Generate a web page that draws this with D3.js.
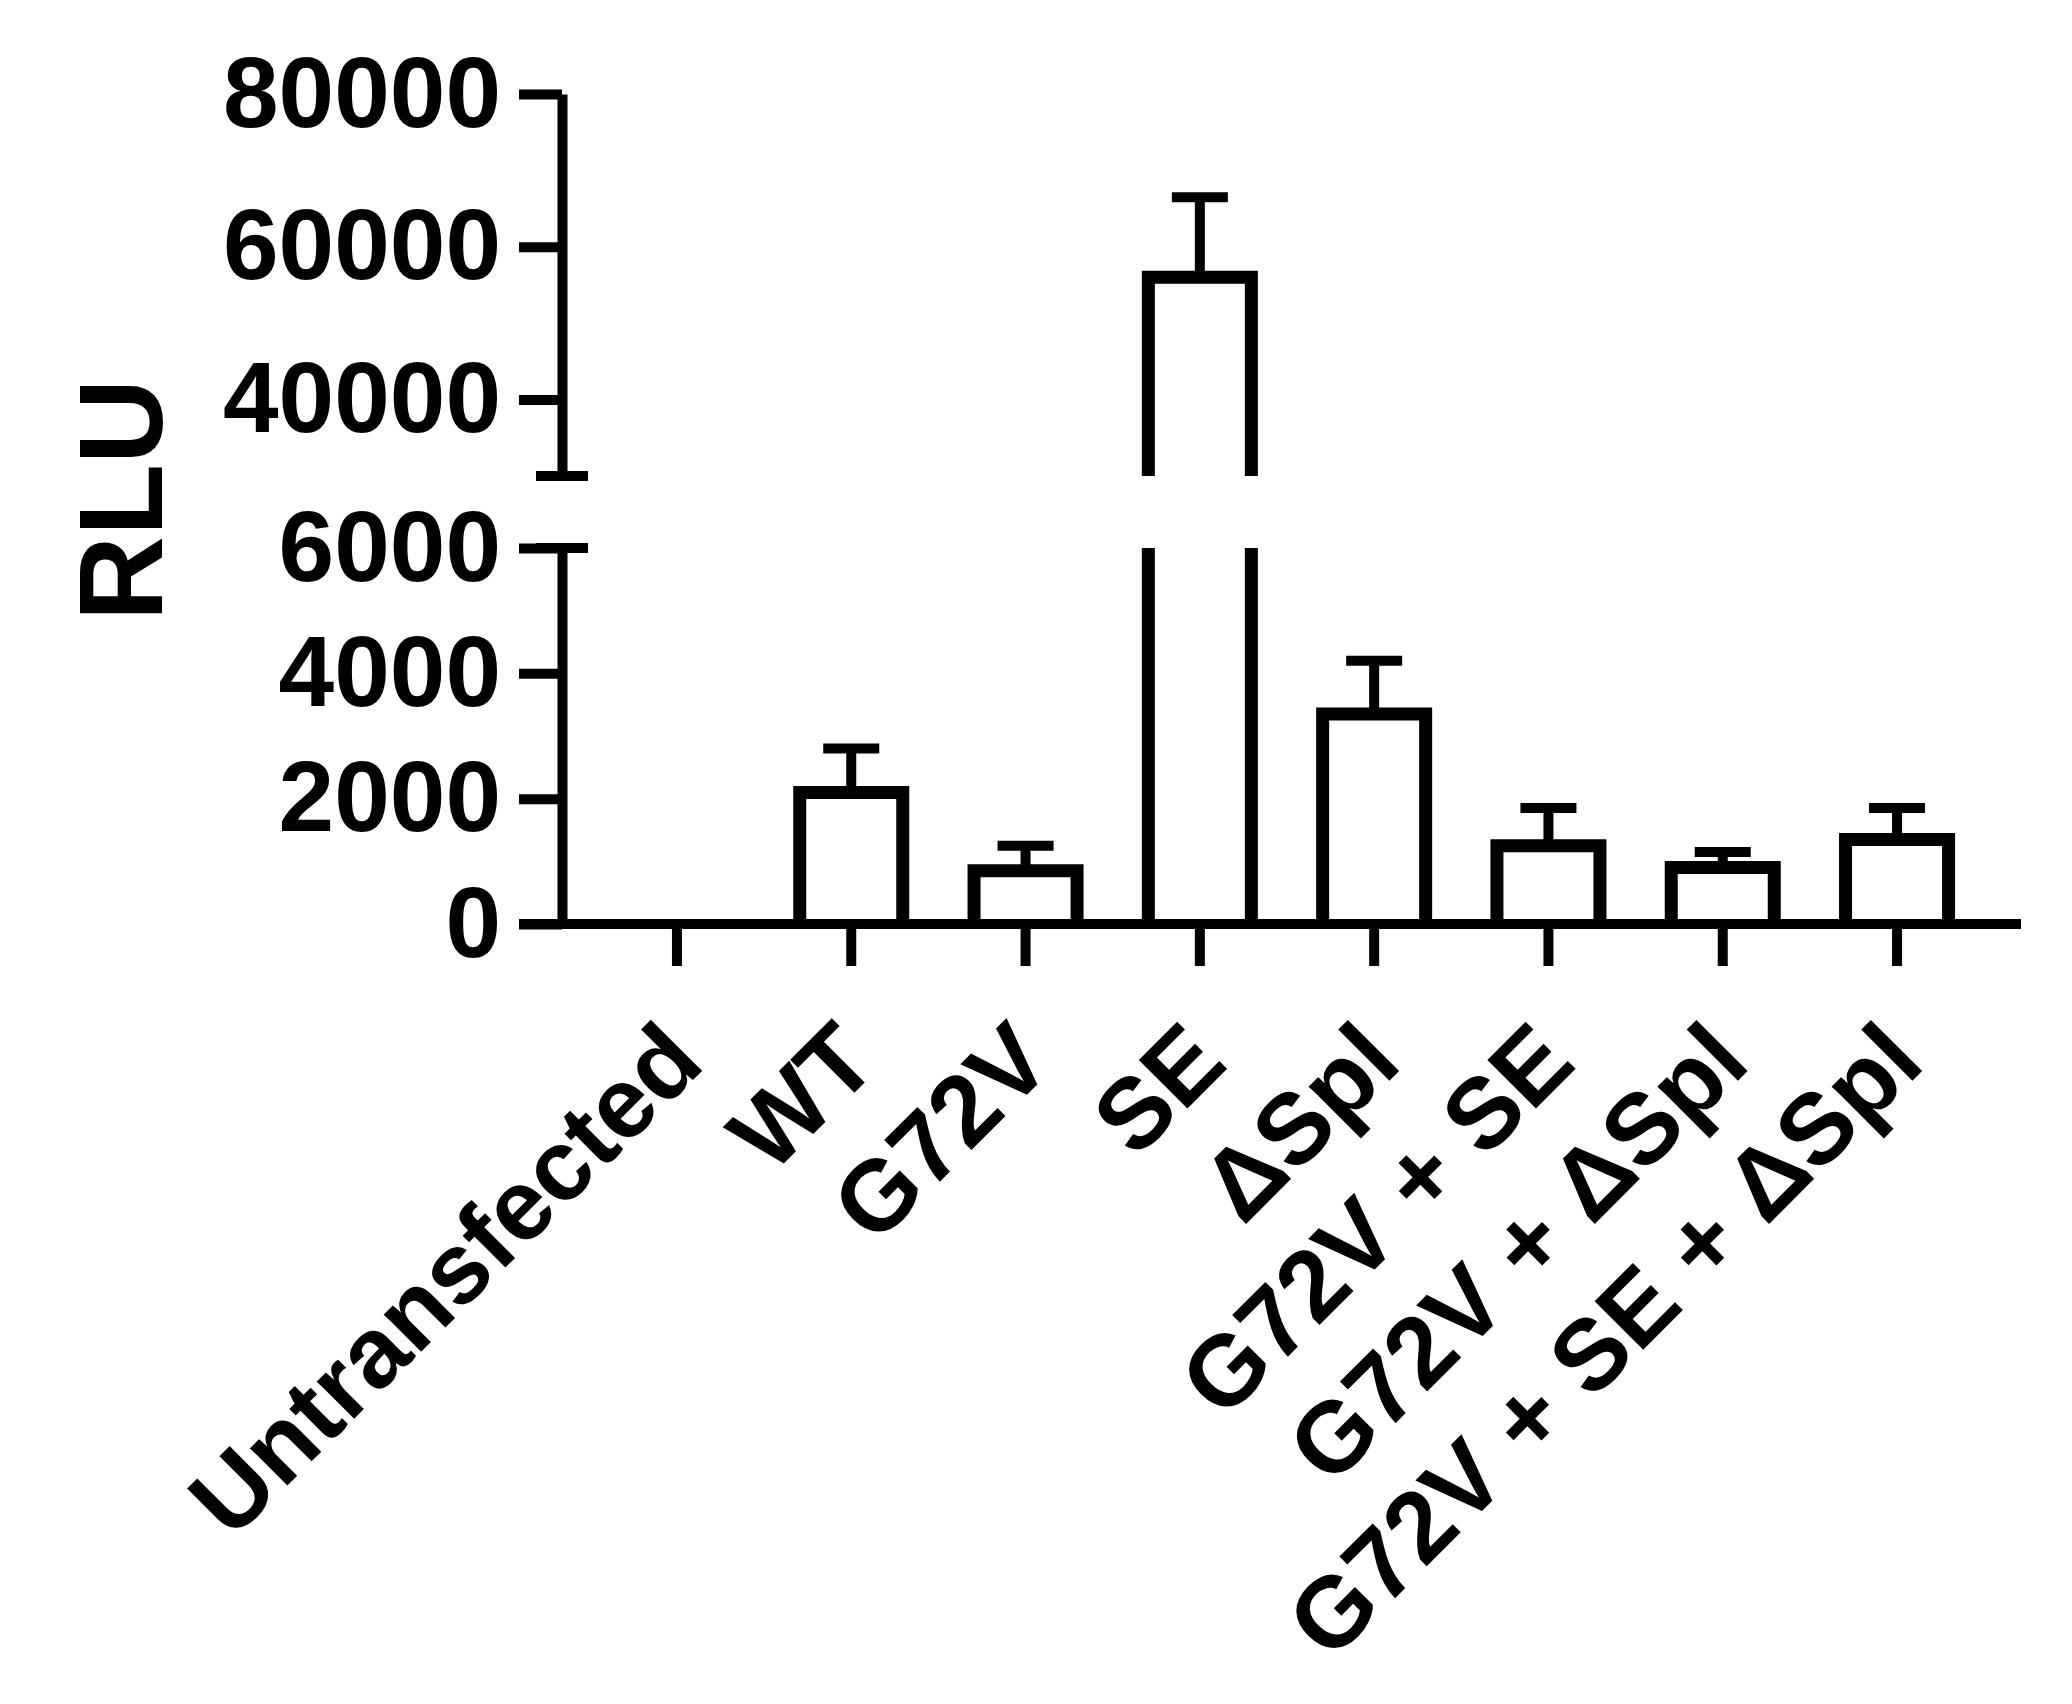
<!DOCTYPE html>
<html><head><meta charset="utf-8">
<script src="https://cdn.jsdelivr.net/npm/d3@7"></script>
<style>body{margin:0;background:#fff}text{font-family:"Liberation Sans",Arial,sans-serif;font-weight:bold}</style>
</head><body><svg width="2072" height="1704"></svg>
<script>
var categories = ["Untransfected", "WT", "G72V", "SE", "\u0394Spl", "G72V + SE", "G72V + \u0394Spl", "G72V + SE + \u0394Spl"];
var means = [0, 2100, 850, 56000, 3350, 1250, 900, 1350];
var errors = [0, 700, 400, 10500, 850, 600, 250, 500];
var lowTicks = [0, 2000, 4000, 6000];
var highTicks = [40000, 60000, 80000];

var svg = d3.select("svg");
var sw = 10, bw = 13;
var axisX = 562;
var yLow = d3.scaleLinear().domain([0, 6000]).range([924, 548]);
var yHigh = d3.scaleLinear().domain([30000, 80000]).range([476, 94]);
var x = d3.scaleBand().domain(categories).range([562, 2012]).paddingInner(0.409).paddingOuter(0.364);

function styleAxis(g) {
    g.selectAll("path,line").attr("stroke", "#000").attr("stroke-width", sw);
    g.selectAll("text").attr("font-size", 100).attr("fill", "#000");
}

svg.append("g").attr("transform", "translate(" + axisX + ",0)")
    .call(d3.axisLeft(yLow).tickValues(lowTicks).tickSize(43).tickSizeOuter(0).tickPadding(18).tickFormat(d3.format("d")))
    .call(styleAxis);
svg.append("g").attr("transform", "translate(" + axisX + ",0)")
    .call(d3.axisLeft(yHigh).tickValues(highTicks).tickSize(43).tickSizeOuter(0).tickPadding(18).tickFormat(d3.format("d")))
    .call(styleAxis);
// break caps at 6000 and 30000
[yLow(6000), yHigh(30000)].forEach(function (yy) {
    svg.append("line").attr("x1", axisX - 26).attr("x2", axisX + 26).attr("y1", yy).attr("y2", yy)
        .attr("stroke", "#000").attr("stroke-width", sw);
});

var xg = svg.append("g").attr("transform", "translate(0," + yLow(0) + ")")
    .call(d3.axisBottom(x).tickSize(42).tickSizeOuter(0).tickFormat(""))
    .call(styleAxis);
xg.select(".domain").attr("d", "M" + (axisX - 43) + ",0H2021");

svg.selectAll(".xl").data(categories).enter().append("text")
    .attr("transform", function (d) { return "translate(" + (x(d) + x.bandwidth() / 2 + 30) + ",1066) rotate(-45)"; })
    .attr("text-anchor", "end").attr("font-size", 100).text(function (d) { return d; });

svg.append("text").attr("transform", "translate(162,500) rotate(-90)").attr("text-anchor", "middle")
    .attr("font-size", 118).text("RLU");

var g = svg.append("g").attr("fill", "none").attr("stroke", "#000");
categories.forEach(function (c, i) {
    var v = means[i], e = errors[i];
    if (v <= 0) return;
    var l = x(c), r = x(c) + x.bandwidth(), m = l + x.bandwidth() / 2;
    var ys = v <= 6000 ? yLow : yHigh;
    if (v <= 6000) {
        g.append("path").attr("stroke-width", bw).attr("d", "M" + l + "," + yLow(0) + "V" + yLow(v) + "H" + r + "V" + yLow(0));
    } else {
        g.append("path").attr("stroke-width", bw).attr("d", "M" + l + "," + yLow(0) + "V" + yLow(6000) + "M" + r + "," + yLow(0) + "V" + yLow(6000));
        g.append("path").attr("stroke-width", bw).attr("d", "M" + l + "," + yHigh(30000) + "V" + yHigh(v) + "H" + r + "V" + yHigh(30000));
    }
    g.append("path").attr("stroke-width", sw).attr("d", "M" + m + "," + ys(v) + "V" + ys(v + e) + "M" + (m - 28) + "," + ys(v + e) + "H" + (m + 28));
});
</script></body></html>
